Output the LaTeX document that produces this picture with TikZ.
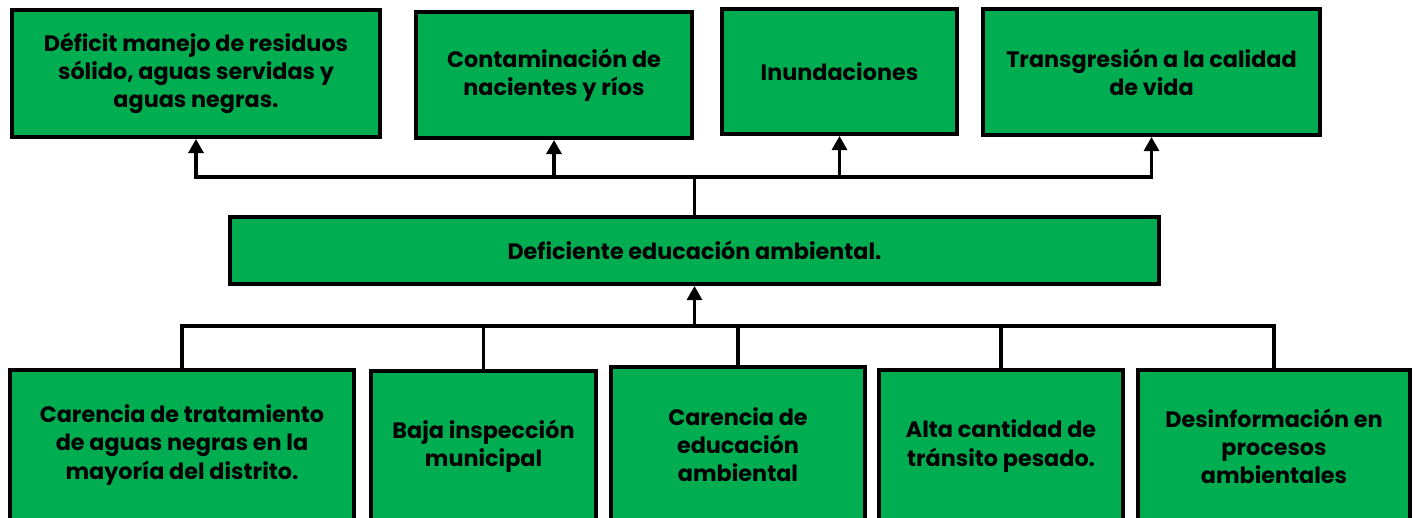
\documentclass[tikz,border=0pt]{standalone}
\usepackage{fontspec}
\setmainfont{Poppins}
\usetikzlibrary{arrows.meta,positioning}
\definecolor{boxgreen}{HTML}{00AE51}

\begin{document}
\begin{tikzpicture}[
                x=0.02cm, y=-0.02cm,
                box/.style={draw, line width=2.2pt, fill=boxgreen, align=center,
                    inner sep=0pt, font=\fontsize{12.7}{16}\selectfont\bfseries},
                sz/.style 2 args={minimum width=#1*0.02cm-2.2pt, minimum height=#2*0.02cm-2.2pt},
                link/.style={line width=1.9pt},
                arr/.style={-{Triangle[width=8.5pt,length=8pt]}}
            ]
                \useasboundingbox (0,0) rectangle (1415,517);
                % effects
                \node[box,sz={372}{131}] (t1) at (196,73.5)  {Déficit manejo de residuos\\sólido, aguas servidas y\\aguas negras.};
                \node[box,sz={280}{130}] (t2) at (554,75)    {Contaminación de\\nacientes y ríos};
                \node[box,sz={239}{129}] (t3) at (839.5,71.5) {Inundaciones};
                \node[box,sz={341}{130}] (t4) at (1151.5,72) {Transgresión a la calidad\\de vida};
                % central problem
                \node[box,sz={933}{71}]  (mid) at (694.5,250.5) {Deficiente educación ambiental.};
                % causes
                \node[box,sz={348}{154}] (b1) at (182,445)   {Carencia de tratamiento\\de aguas negras en la\\mayoría del distrito.};
                \node[box,sz={229}{154}] (b2) at (483.5,446) {Baja inspección\\municipal};
                \node[box,sz={258}{159}] (b3) at (738,444.5) {Carencia de\\educación\\ambiental};
                \node[box,sz={248}{156}] (b4) at (1001,446)  {Alta cantidad de\\tránsito pesado.};
                \node[box,sz={276}{156}] (b5) at (1274,446)  {Desinformación en\\procesos\\ambientales};
                \coordinate (upbus) at (mid.north |- 0,177);
                \coordinate (lowbus) at (mid.south |- 0,326);
                \draw[link] (mid.north) -- (upbus);
                \foreach \t in {t1,t2,t3,t4}
                    \draw[link,arr] (upbus) -| (\t.south);
                \draw[link,arr] (lowbus) -- (mid.south);
                \foreach \b in {b1,b2,b3,b4,b5}
                    \draw[link] (\b.north) |- (lowbus);
            \end{tikzpicture}
\end{document}
